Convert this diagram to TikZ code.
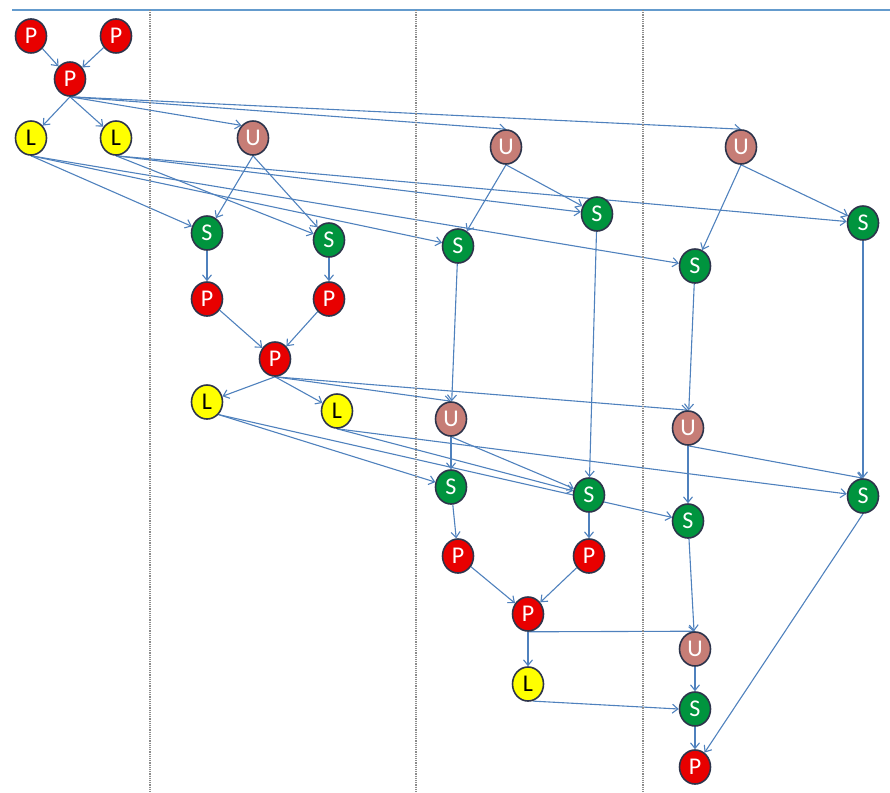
\documentclass[tikz,border=0pt]{standalone}
\usepackage{fontspec}
\setmainfont{Carlito}
\usetikzlibrary{shapes.geometric,arrows.meta}
\definecolor{pred}{RGB}{232,0,0}
\definecolor{lyel}{RGB}{255,255,0}
\definecolor{urose}{RGB}{198,125,118}
\definecolor{sgreen}{RGB}{0,148,62}
\definecolor{bordc}{RGB}{45,52,75}
\definecolor{arblue}{RGB}{79,129,189}
\definecolor{topblue}{RGB}{100,155,205}
\pgfdeclarelayer{edgelayer}
\pgfsetlayers{edgelayer,main}
\begin{document}
\begin{tikzpicture}[x=1pt,y=-1pt,
  nd/.style={ellipse, draw=bordc, line width=1.6pt, minimum width=31pt, minimum height=34pt, inner sep=0pt, font=\fontsize{24}{24}\selectfont, text=white},
  pn/.style={nd, fill=pred},
  ln/.style={nd, fill=lyel, text=black},
  un/.style={nd, fill=urose},
  sn/.style={nd, fill=sgreen},
  ar/.style={draw=arblue, line width=1.1pt, -{Straight Barb[length=5.5pt,width=9pt]}},
  sep/.style={draw=gray!90, line width=1.2pt, densely dotted},
  topl/.style={draw=topblue, line width=1.1pt}]
\useasboundingbox (0,0) rectangle (890,792);
% separators
\coordinate (t0) at (12,10);
\coordinate (t1) at (890,10);
\coordinate (v1a) at (150,10); \coordinate (v1b) at (150,792);
\coordinate (v2a) at (416,10); \coordinate (v2b) at (416,792);
\coordinate (v3a) at (643,10); \coordinate (v3b) at (643,792);
\draw[topl] (t0) -- (t1);
\draw[sep] (v1a) -- (v1b);
\draw[sep] (v2a) -- (v2b);
\draw[sep] (v3a) -- (v3b);
% nodes
\node[pn] (P1) at (31,36) {P};
\node[pn] (P2) at (116,36) {P};
\node[pn] (P3) at (70,79) {P};
\node[ln] (L1) at (31,138) {L};
\node[ln] (L2) at (116,138) {L};
\node[un] (U1) at (253,138) {U};
\node[sn] (S1) at (207,233) {S};
\node[sn] (S2) at (329,240) {S};
\node[pn] (P4) at (207,299) {P};
\node[pn] (P5) at (329,299) {P};
\node[pn] (P6) at (275,359) {P};
\node[ln] (L3) at (207,402) {L};
\node[ln] (L4) at (337,411) {L};
\node[un] (U2) at (506,147) {U};
\node[sn] (S3) at (597,214) {S};
\node[sn] (S4) at (458,246) {S};
\node[un] (U3) at (451,419) {U};
\node[sn] (S5) at (451,487) {S};
\node[sn] (S6) at (589,495) {S};
\node[pn] (P7) at (458,556) {P};
\node[pn] (P8) at (589,556) {P};
\node[pn] (P9) at (528,614) {P};
\node[ln] (L5) at (528,684) {L};
\node[un] (U4) at (741,147) {U};
\node[sn] (S7) at (863,223) {S};
\node[sn] (S8) at (695,266) {S};
\node[un] (U5) at (688,428) {U};
\node[sn] (S9) at (863,496) {S};
\node[sn] (S10) at (688,521) {S};
\node[un] (U6) at (695,649) {U};
\node[sn] (S11) at (695,709) {S};
\node[pn] (P10) at (695,767) {P};
% edges
\begin{pgfonlayer}{edgelayer}
\draw[ar] (P1) -- (P3);
\draw[ar] (P2) -- (P3);
\draw[ar] (P3.south) -- (L1);
\draw[ar] (P3.south) -- (L2);
\draw[ar] (P3.south) -- (U1.north west);
\draw[ar] (P3.south) -- (U2.north);
\draw[ar] (P3.south) -- (U4.north);
\draw[ar] (L1.south) -- (S1);
\draw[ar] (L1.south) -- (S4);
\draw[ar] (L1.south) -- (S8);
\draw[ar] (L2.south) -- (S2);
\draw[ar] (L2.south) -- (S3);
\draw[ar] (L2.south) -- (S7);
\draw[ar] (U1.south) -- (S1);
\draw[ar] (U1.south) -- (S2);
\draw[ar] (U2.south) -- (S4);
\draw[ar] (U2.south) -- (S3);
\draw[ar] (U4.south) -- (S8);
\draw[ar] (U4.south) -- (S7);
\draw[ar] (S1) -- (P4);
\draw[ar] (S2) -- (P5);
\draw[ar] (P4) -- (P6);
\draw[ar] (P5) -- (P6);
\draw[ar] (S4) -- (U3);
\draw[ar] (S3) -- (S6);
\draw[ar] (S8) -- (U5);
\draw[ar] (S7) -- (S9);
\draw[ar] (P6.south) -- (L3);
\draw[ar] (P6.south) -- (L4);
\draw[ar] (P6.south) -- (U3.north);
\draw[ar] (P6.south) -- (U5.north);
\draw[ar] (L3.south east) -- (S5);
\draw[ar] (L3.south east) -- (S10);
\draw[ar] (L4.south) -- (S6);
\draw[ar] (L4.south) -- (S9);
\draw[ar] (U3.south) -- (S5);
\draw[ar] (U3.south) -- (S6);
\draw[ar] (U5.south) -- (S10);
\draw[ar] (U5.south) -- (S9.north);
\draw[ar] (S5) -- (P7);
\draw[ar] (S6) -- (P8);
\draw[ar] (P7) -- (P9);
\draw[ar] (P8) -- (P9);
\draw[ar] (P9.south) -- (U6.north);
\draw[ar] (P9) -- (L5);
\draw[ar] (S10) -- (U6);
\draw[ar] (U6) -- (S11);
\draw[ar] (L5.-75) -- (S11.west);
\draw[ar] (S11) -- (P10);
\draw[ar] (S9.south) -- (P10);
\end{pgfonlayer}
\end{tikzpicture}
\end{document}
